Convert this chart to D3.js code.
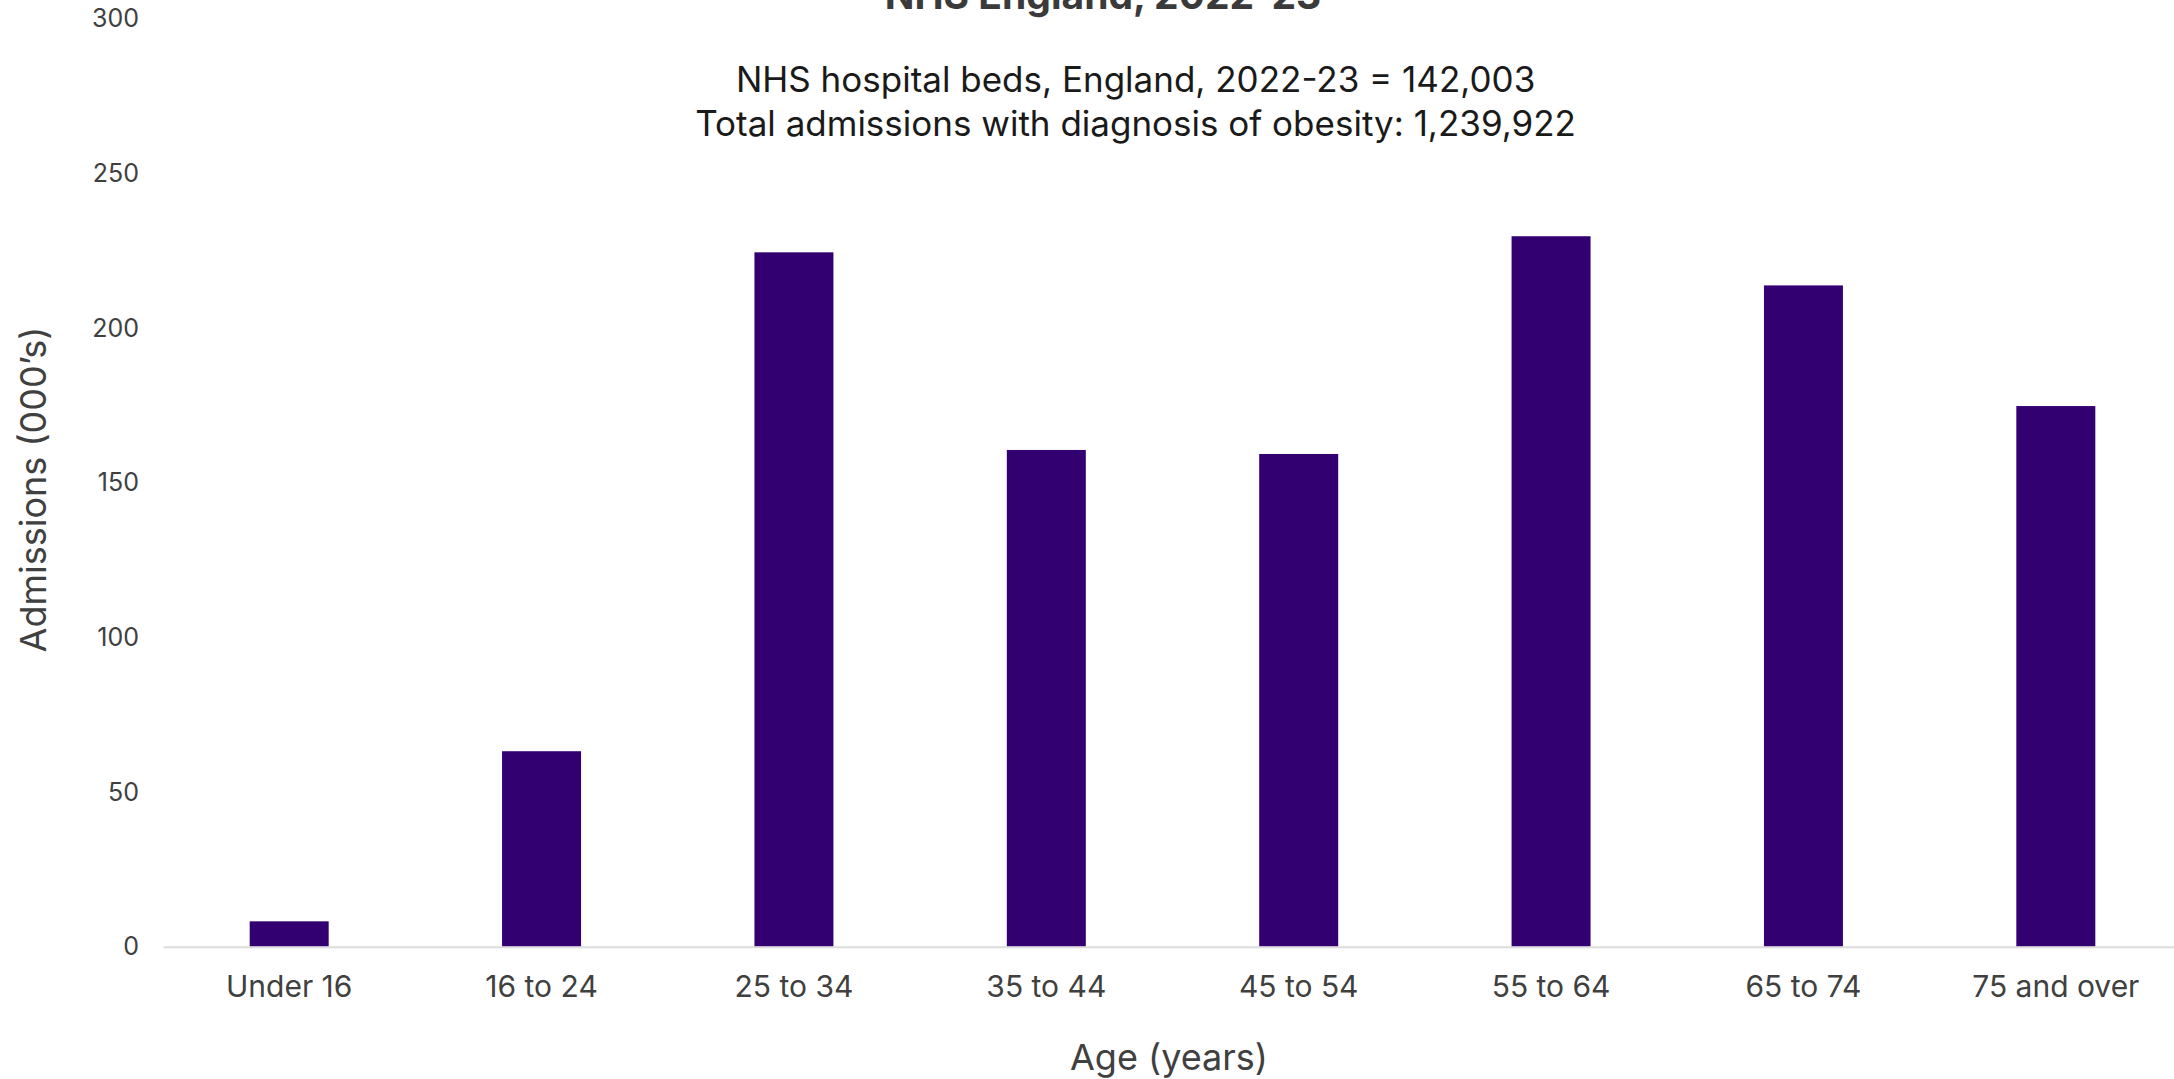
<!DOCTYPE html>
<html>
<head>
<meta charset="utf-8">
<script src="https://cdnjs.cloudflare.com/ajax/libs/d3/7.8.5/d3.min.js"></script>
<style>
  html, body { margin: 0; padding: 0; background: #ffffff; }
  svg { display: block; font-family: Inter, "Noto Sans", sans-serif; }
</style>
</head>
<body>
<svg id="chart"></svg>
<script>
// data (admissions, thousands)
const ageGroups = ["Under 16", "16 to 24", "25 to 34", "35 to 44", "45 to 54", "55 to 64", "65 to 74", "75 and over"];
const admissions = [8.2, 63.2, 224.5, 160.6, 159.3, 229.7, 213.8, 174.8];
const yTicks = [0, 50, 100, 150, 200, 250, 300];
const titleText = "NHS England, 2022-23";
const subtitleLines = ["NHS hospital beds, England, 2022-23 = 142,003", "Total admissions with diagnosis of obesity: 1,239,922"];

const width = 2174;
const height = 1079;
const barColor = "#330072";
const textColor = "#404040";

let svg = d3.select("#chart")
    .attr("width", width)
    .attr("height", height);

let x = d3.scaleBand()
    .domain(ageGroups)
    .range([163, 2182])
    .paddingInner(0.687)
    .paddingOuter(0.3435);

let y = d3.scaleLinear()
    .domain([0, 300])
    .range([946.7, 18.8]);

// bars
svg.append("g")
    .selectAll("rect")
    .data(admissions)
    .join("rect")
    .attr("x", (d, i) => x(ageGroups[i]))
    .attr("y", d => y(d))
    .attr("width", x.bandwidth())
    .attr("height", d => y(0) - y(d))
    .attr("fill", barColor);

// y axis (labels only)
let yAxis = svg.append("g")
    .attr("transform", "translate(163,0)")
    .call(d3.axisLeft(y).tickValues(yTicks).tickSize(0).tickPadding(24));
yAxis.select(".domain").remove();
yAxis.selectAll("text")
    .style("font-family", "Inter")
    .style("font-size", "25px")
    .attr("fill", textColor);

// x axis
let xAxis = svg.append("g")
    .attr("transform", "translate(0," + y(0) + ")")
    .call(d3.axisBottom(x).tickSize(0).tickPadding(29));
xAxis.select(".domain")
    .attr("stroke", "#dcdcdc")
    .attr("stroke-width", 2);
xAxis.selectAll("text")
    .style("font-family", "Inter")
    .style("font-size", "30px")
    .attr("fill", textColor);

// title (top is cut off in the original)
svg.append("text")
    .attr("x", 1103)
    .attr("y", 9)
    .text(titleText)
    .style("text-anchor", "middle")
    .style("font-weight", "bold")
    .style("font-size", "39px")
    .attr("fill", "#3a3a3a");

// subtitle lines
svg.selectAll(".subtitle")
    .data(subtitleLines)
    .join("text")
    .attr("class", "subtitle")
    .attr("x", 1135.6)
    .attr("y", (d, i) => 92 + i * 44.3)
    .text(d => d)
    .style("text-anchor", "middle")
    .style("font-size", "35px")
    .attr("fill", "#1a1a1a");

// axis titles
svg.append("text")
    .attr("transform", "translate(33,489.5) rotate(-90)")
    .text("Admissions (000’s)")
    .style("text-anchor", "middle")
    .style("dominant-baseline", "central")
    .style("font-size", "36px")
    .attr("fill", textColor);

svg.append("text")
    .attr("x", 1169)
    .attr("y", 1070)
    .text("Age (years)")
    .style("text-anchor", "middle")
    .style("font-size", "36px")
    .attr("fill", textColor);
</script>
</body>
</html>
